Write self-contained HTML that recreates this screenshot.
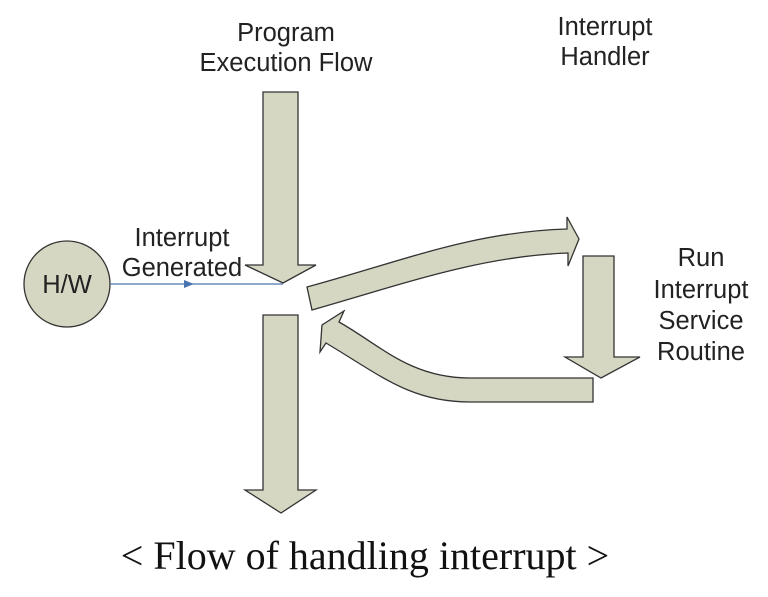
<!DOCTYPE html>
<html><head><style>
body{margin:0;background:#fff;}
svg{display:block;}
.t{font-family:"Liberation Sans",sans-serif;font-size:25.5px;fill:#222;text-anchor:middle;}
</style></head><body>
<svg width="768" height="597" viewBox="0 0 768 597">
<g fill="#d6d7c3" stroke="#333" stroke-width="1.3" stroke-linejoin="miter">
<polygon points="263,92 298,92 298,265 316,265 283,283 245,265 263,265"/>
<polygon points="263,315 298,315 298,490 316,490 281,513 245,490 263,490"/>
<polygon points="583,256 614,256 614,357 640,357 601,378 565,357 583,357"/>
<path d="M307,287 C400,262 470,232 567,229 L567,217 L579,239 L568,266 L568,253 C480,256 400,285 312,310 Z"/>
<path d="M593,378 L470,378 C410,378 380,345 339,322 L344,311 L322,325 L320,352 L326,343 C380,375 410,402 470,402 L593,402 Z"/>
</g>
<circle cx="67" cy="284" r="43" fill="#d6d7c3" stroke="#333" stroke-width="1.3"/>
<line x1="110" y1="284" x2="283" y2="284" stroke="#4a74b0" stroke-width="1.3"/>
<polygon points="184,280 194,284 184,288" fill="#4a74b0"/>
<text class="t" x="67" y="293">H/W</text>
<text class="t" x="286" y="41">Program</text>
<text class="t" x="286" y="71">Execution Flow</text>
<text class="t" x="605" y="35">Interrupt</text>
<text class="t" x="605" y="65">Handler</text>
<text class="t" x="182" y="246">Interrupt</text>
<text class="t" x="182" y="276">Generated</text>
<text class="t" x="701" y="266">Run</text>
<text class="t" x="701" y="298">Interrupt</text>
<text class="t" x="701" y="329">Service</text>
<text class="t" x="701" y="360">Routine</text>
<text x="365" y="569" font-family="Liberation Serif,serif" font-size="40" fill="#111" text-anchor="middle">&lt; Flow of handling interrupt &gt;</text>
</svg>
</body></html>
